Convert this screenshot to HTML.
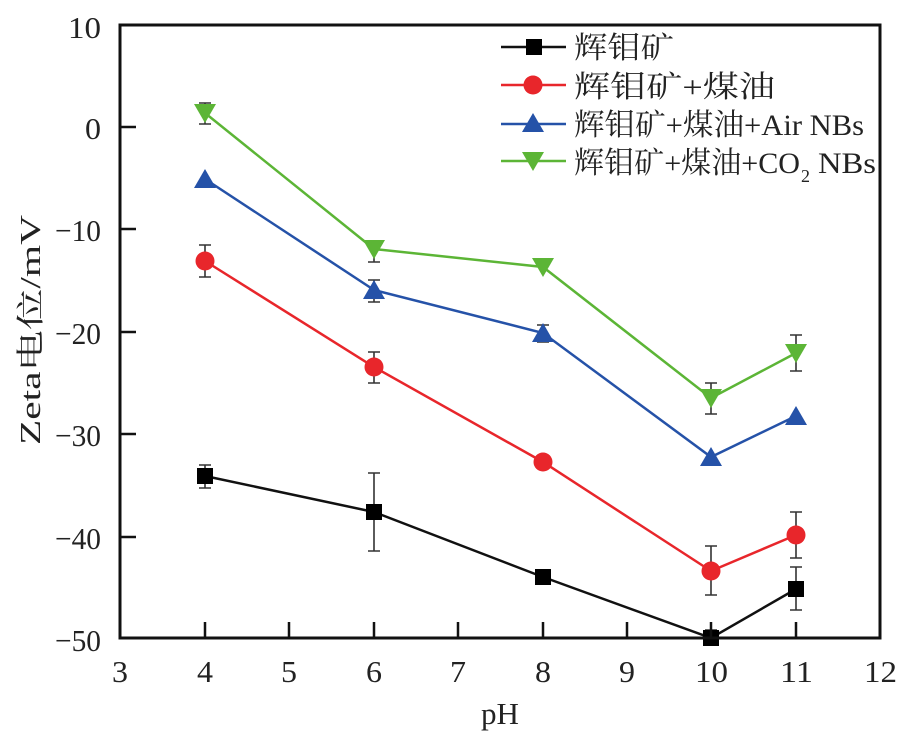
<!DOCTYPE html>
<html><head><meta charset="utf-8"><style>body{margin:0;background:#fff}svg{display:block}text{font-family:"Liberation Serif","Noto Serif CJK SC",serif;fill:#222}</style></head>
<body>
<svg width="912" height="740" viewBox="0 0 912 740" xmlns="http://www.w3.org/2000/svg">
<rect width="912" height="740" fill="#fff"/>
<g stroke="#333" stroke-width="1.6" fill="none">
<path d="M205 465V488M199 465h12M199 488h12"/>
<path d="M374 473V551M368 473h12M368 551h12"/>
<path d="M543 572V582M537 572h12M537 582h12"/>
<path d="M711 630V645M705 630h12"/>
<path d="M796 567V610M790 567h12M790 610h12"/>
<path d="M205 245V277M199 245h12M199 277h12"/>
<path d="M374 352V383M368 352h12M368 383h12"/>
<path d="M543 457V467M537 457h12M537 467h12"/>
<path d="M711 546V595M705 546h12M705 595h12"/>
<path d="M796 512V558M790 512h12M790 558h12"/>
<path d="M374 280V302M368 280h12M368 302h12"/>
<path d="M543 325V342M537 325h12M537 342h12"/>
<path d="M205 103V124M199 103h12M199 124h12"/>
<path d="M374 244V262M368 244h12M368 262h12"/>
<path d="M711 383V414M705 383h12M705 414h12"/>
<path d="M796 335V371M790 335h12M790 371h12"/>
</g>
<polyline points="205,476 374,512 543,577 711,638 796,589" fill="none" stroke="#111" stroke-width="2.5"/>
<polyline points="205,261 374,367 543,462 711,571 796,535" fill="none" stroke="#e8262b" stroke-width="2.5"/>
<polyline points="205,179 374,290 543,333 711,457 796,416" fill="none" stroke="#2552a8" stroke-width="2.5"/>
<polyline points="205,113 374,249 543,267 711,398 796,353" fill="none" stroke="#5cb536" stroke-width="2.5"/>
<g fill="#000"><rect x="197" y="468" width="16" height="16"/><rect x="366" y="504" width="16" height="16"/><rect x="535" y="569" width="16" height="16"/><rect x="703" y="630" width="16" height="16"/><rect x="788" y="581" width="16" height="16"/></g>
<g fill="#e8262b"><circle cx="205" cy="261" r="9.5"/><circle cx="374" cy="367" r="9.5"/><circle cx="543" cy="462" r="9.5"/><circle cx="711" cy="571" r="9.5"/><circle cx="796" cy="535" r="9.5"/></g>
<g fill="#2552a8"><path d="M205 169l-11 19h22z"/><path d="M374 280l-11 19h22z"/><path d="M543 323l-11 19h22z"/><path d="M711 447l-11 19h22z"/><path d="M796 406l-11 19h22z"/></g>
<g fill="#5cb536"><path d="M205 123l-11-19h22z"/><path d="M374 259l-11-19h22z"/><path d="M543 277l-11-19h22z"/><path d="M711 408l-11-19h22z"/><path d="M796 363l-11-19h22z"/></g>
<rect x="120" y="25" width="760" height="613" fill="none" stroke="#111" stroke-width="3"/>
<g stroke="#111" stroke-width="2.5">
<path d="M120 127h16M120 229h16M120 332h16M120 434h16M120 537h16"/>
<path d="M205 638v-16M289 638v-16M374 638v-16M458 638v-16M543 638v-16M627 638v-16M711 638v-16M796 638v-16"/>
</g>
<g font-size="31">
<text x="68" y="38" textLength="33" lengthAdjust="spacingAndGlyphs">10</text>
<text x="85" y="139" textLength="16" lengthAdjust="spacingAndGlyphs">0</text>
<text x="55" y="241" textLength="46" lengthAdjust="spacingAndGlyphs">−10</text>
<text x="55" y="344" textLength="46" lengthAdjust="spacingAndGlyphs">−20</text>
<text x="55" y="446" textLength="46" lengthAdjust="spacingAndGlyphs">−30</text>
<text x="55" y="549" textLength="46" lengthAdjust="spacingAndGlyphs">−40</text>
<text x="55" y="651" textLength="46" lengthAdjust="spacingAndGlyphs">−50</text>
</g>
<g font-size="31">
<text x="112" y="682" textLength="16" lengthAdjust="spacingAndGlyphs">3</text>
<text x="197" y="682" textLength="16" lengthAdjust="spacingAndGlyphs">4</text>
<text x="281" y="682" textLength="16" lengthAdjust="spacingAndGlyphs">5</text>
<text x="366" y="682" textLength="16" lengthAdjust="spacingAndGlyphs">6</text>
<text x="450" y="682" textLength="16" lengthAdjust="spacingAndGlyphs">7</text>
<text x="535" y="682" textLength="16" lengthAdjust="spacingAndGlyphs">8</text>
<text x="619" y="682" textLength="16" lengthAdjust="spacingAndGlyphs">9</text>
<text x="695" y="682" textLength="33" lengthAdjust="spacingAndGlyphs">10</text>
<text x="780" y="682" textLength="33" lengthAdjust="spacingAndGlyphs">11</text>
<text x="864" y="682" textLength="33" lengthAdjust="spacingAndGlyphs">12</text>
<text x="481" y="724" textLength="38" lengthAdjust="spacingAndGlyphs">pH</text>
</g>
<text font-size="28" x="-445" y="40" textLength="230" lengthAdjust="spacingAndGlyphs" transform="rotate(-90)">Zeta电位/mV</text>
<g stroke-width="2.5">
<line x1="501" y1="47" x2="566" y2="47" stroke="#111"/><rect x="526" y="39" width="16" height="16" fill="#000"/>
<line x1="501" y1="85" x2="566" y2="85" stroke="#e8262b"/><circle cx="533" cy="85" r="9.5" fill="#e8262b"/>
<line x1="501" y1="124" x2="566" y2="124" stroke="#2552a8"/><path d="M533 113l-11 19h22z" fill="#2552a8"/>
<line x1="501" y1="161" x2="566" y2="161" stroke="#5cb536"/><path d="M533 171l-11-19h22z" fill="#5cb536"/>
</g>
<g font-size="30">
<text x="574" y="58" textLength="100" lengthAdjust="spacingAndGlyphs">辉钼矿</text>
<text x="574" y="97" textLength="201" lengthAdjust="spacingAndGlyphs">辉钼矿+煤油</text>
<text x="574" y="135" textLength="290" lengthAdjust="spacingAndGlyphs">辉钼矿+煤油+Air NBs</text>
<text x="574" y="173" textLength="226" lengthAdjust="spacingAndGlyphs">辉钼矿+煤油+CO</text>
<text x="801" y="182" font-size="18">2</text>
<text x="818" y="173" textLength="58" lengthAdjust="spacingAndGlyphs">NBs</text>
</g>
</svg>
</body></html>
